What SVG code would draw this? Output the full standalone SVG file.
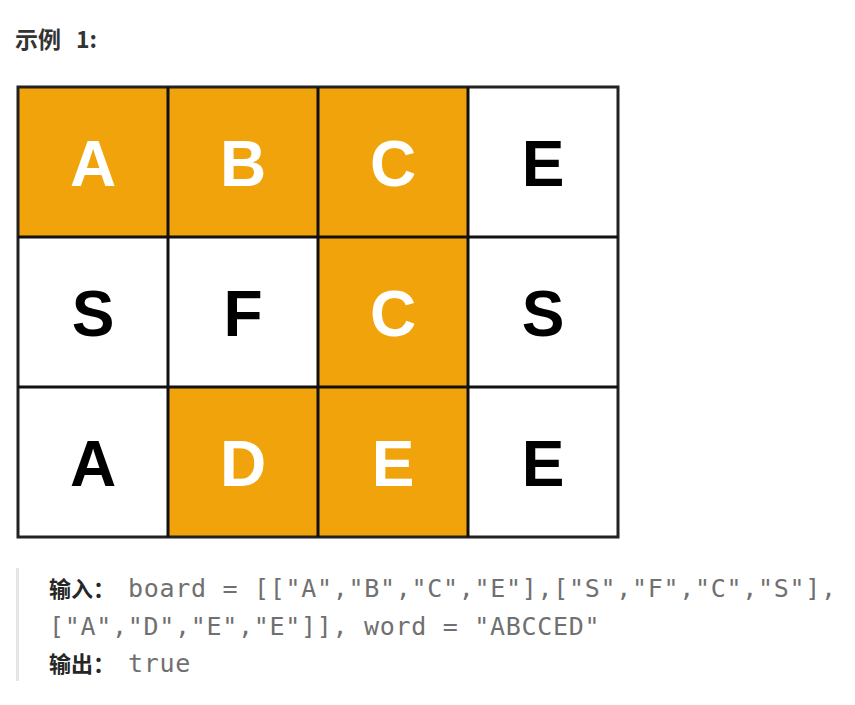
<svg xmlns="http://www.w3.org/2000/svg" width="855" height="705" viewBox="0 0 855 705">
<style>
.on{fill:#f0a30a}
.off{fill:#ffffff}
.lt{font-family:"Liberation Sans",Arial,sans-serif;font-weight:bold;font-size:64px;text-anchor:middle}
.w{fill:#ffffff}
.k{fill:#000000}
.lbl{font-family:"Noto Sans CJK SC","Noto Sans",sans-serif;font-weight:bold;font-size:22px;fill:#262626}
.ttl{font-family:"Noto Sans CJK SC","Noto Sans",sans-serif;font-weight:bold;font-size:23px;fill:#333333}
.mono{font-family:"DejaVu Sans Mono","Liberation Mono",monospace;font-size:25px;fill:#707070;letter-spacing:0.7px}
</style>
<rect width="855" height="705" fill="#ffffff"/>
<text x="15" y="48" class="ttl">示例</text>
<text x="76" y="48" class="ttl">1:</text>
<g id="grid">
<g id="c00"><rect x="18" y="87" width="150" height="150" class="on"/><text x="93" y="186" class="lt w">A</text></g>
<g id="c01"><rect x="168" y="87" width="150" height="150" class="on"/><text x="243" y="186" class="lt w">B</text></g>
<g id="c02"><rect x="318" y="87" width="150" height="150" class="on"/><text x="393" y="186" class="lt w">C</text></g>
<g id="c03"><rect x="468" y="87" width="150" height="150" class="off"/><text x="543" y="186" class="lt k">E</text></g>
<g id="c10"><rect x="18" y="237" width="150" height="150" class="off"/><text x="93" y="336" class="lt k">S</text></g>
<g id="c11"><rect x="168" y="237" width="150" height="150" class="off"/><text x="243" y="336" class="lt k">F</text></g>
<g id="c12"><rect x="318" y="237" width="150" height="150" class="on"/><text x="393" y="336" class="lt w">C</text></g>
<g id="c13"><rect x="468" y="237" width="150" height="150" class="off"/><text x="543" y="336" class="lt k">S</text></g>
<g id="c20"><rect x="18" y="387" width="150" height="150" class="off"/><text x="93" y="486" class="lt k">A</text></g>
<g id="c21"><rect x="168" y="387" width="150" height="150" class="on"/><text x="243" y="486" class="lt w">D</text></g>
<g id="c22"><rect x="318" y="387" width="150" height="150" class="on"/><text x="393" y="486" class="lt w">E</text></g>
<g id="c23"><rect x="468" y="387" width="150" height="150" class="off"/><text x="543" y="486" class="lt k">E</text></g>
</g>
<g id="lines" stroke="#111111" stroke-width="3" fill="none">
<rect x="18" y="87" width="600" height="450" stroke="#222"/>
<line x1="168" y1="87" x2="168" y2="537"/>
<line x1="318" y1="87" x2="318" y2="537"/>
<line x1="468" y1="87" x2="468" y2="537"/>
<line x1="18" y1="237" x2="618" y2="237"/>
<line x1="18" y1="387" x2="618" y2="387"/>
</g>
<rect x="16" y="568" width="3" height="113" fill="#e6e6e6"/>
<text x="49" y="597" class="lbl">输入：</text>
<text x="128" y="597" class="mono">board = [["A","B","C","E"],["S","F","C","S"],</text>
<text x="49" y="635" class="mono">["A","D","E","E"]], word = "ABCCED"</text>
<text x="49" y="672" class="lbl">输出：</text>
<text x="128" y="672" class="mono">true</text>
</svg>
